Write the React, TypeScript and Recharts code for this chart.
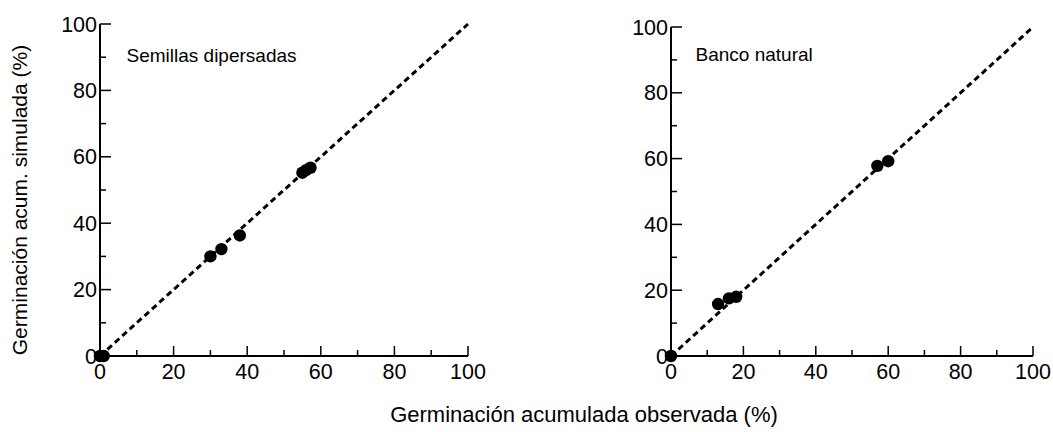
import { ScatterChart, Scatter, XAxis, YAxis, ReferenceLine } from 'recharts';

// Germinación acumulada: observada (x) vs simulada (y)
const semillasObs = [0, 1, 30, 33, 38, 55, 56, 57.2];
const semillasSim = [0, 0, 30, 32.2, 36.3, 55.2, 56, 56.7];

const bancoObs = [0, 13, 16, 18, 57, 60];
const bancoSim = [0, 15.8, 17.5, 18, 57.8, 59.2];

const axisTicks = [0, 10, 20, 30, 40, 50, 60, 70, 80, 90, 100];

const FONT = '"Liberation Sans", Arial, sans-serif';

const toPoints = (xs: number[], ys: number[]) => xs.map((x, i) => ({ x, y: ys[i] }));

// ticks point inward; labels only on every second tick
const XTick = (props: any) => {
  const { x, y, payload } = props;
  const major = payload.value % 20 === 0;
  return (
    <g>
      <line x1={x} y1={y} x2={x} y2={y - (major ? 10 : 6)} stroke="#000" strokeWidth={1.5} />
      {major && (
        <text x={x} y={y + 23} textAnchor="middle" fontSize={21.5} fontFamily={FONT} fill="#000">
          {payload.value}
        </text>
      )}
    </g>
  );
};

const YTick = (props: any) => {
  const { x, y, payload } = props;
  const major = payload.value % 20 === 0;
  return (
    <g>
      <line x1={x} y1={y} x2={x + (major ? 11 : 6)} y2={y} stroke="#000" strokeWidth={1.5} />
      {major && (
        <text x={x - 3} y={y + 7.5} textAnchor="end" fontSize={21.5} fontFamily={FONT} fill="#000">
          {payload.value}
        </text>
      )}
    </g>
  );
};

const Dot = (props: any) => <circle cx={props.cx} cy={props.cy} r={6.2} fill="#000" />;

type PanelProps = {
  xs: number[];
  ys: number[];
  width: number;
  margin: { top: number; right: number; bottom: number; left: number };
};

const Panel = ({ xs, ys, width, margin }: PanelProps) => (
  <ScatterChart width={width} height={432} margin={margin}>
    <XAxis
      type="number"
      dataKey="x"
      domain={[0, 100]}
      ticks={axisTicks}
      interval={0}
      height={30}
      tickSize={0}
      tickMargin={0}
      tickLine={false}
      axisLine={{ stroke: '#000', strokeWidth: 2 }}
      tick={<XTick />}
    />
    <YAxis
      type="number"
      dataKey="y"
      domain={[0, 100]}
      ticks={axisTicks}
      interval={0}
      width={60}
      tickSize={0}
      tickMargin={0}
      tickLine={false}
      axisLine={{ stroke: '#000', strokeWidth: 2 }}
      tick={<YTick />}
    />
    {/* 1:1 line */}
    <ReferenceLine
      segment={[{ x: 0, y: 0 }, { x: 100, y: 100 }]}
      stroke="#000"
      strokeWidth={3}
      strokeDasharray="6 4"
      ifOverflow="visible"
    />
    <Scatter data={toPoints(xs, ys)} fill="#000" shape={<Dot />} isAnimationActive={false} />
  </ScatterChart>
);

export default function App() {
  return (
    <div style={{ position: 'absolute', left: 0, top: 0, width: 1053, height: 432, background: '#fff' }}>
      <svg width={1053} height={432} style={{ position: 'absolute', left: 0, top: 0 }}>
        <text
          x={27}
          y={200}
          transform="rotate(-90 27 200)"
          textAnchor="middle"
          fontSize={21}
          fontFamily={FONT}
          fill="#000"
        >
          Germinación acum. simulada (%)
        </text>
        <text x={584} y={422} textAnchor="middle" fontSize={22} fontFamily={FONT} fill="#000">
          Germinación acumulada observada (%)
        </text>
        <text x={126.5} y={61.5} fontSize={19} fontFamily={FONT} fill="#000">
          Semillas dipersadas
        </text>
        <text x={695.5} y={61} fontSize={19} fontFamily={FONT} fill="#000">
          Banco natural
        </text>
      </svg>
      <div style={{ position: 'absolute', left: 0, top: 0 }}>
        <Panel
          xs={semillasObs}
          ys={semillasSim}
          width={520}
          margin={{ top: 24, right: 52, bottom: 46, left: 40 }}
        />
      </div>
      <div style={{ position: 'absolute', left: 530, top: 0 }}>
        <Panel
          xs={bancoObs}
          ys={bancoSim}
          width={523}
          margin={{ top: 27, right: 20, bottom: 46, left: 81 }}
        />
      </div>
    </div>
  );
}
